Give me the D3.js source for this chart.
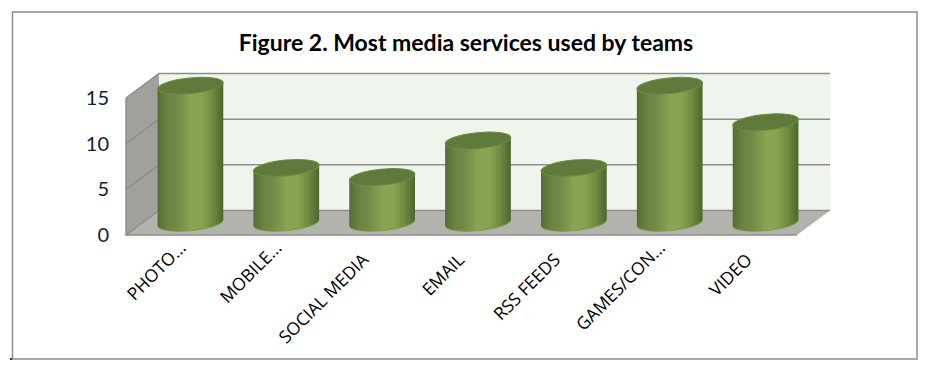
<!DOCTYPE html>
<html>
<head>
<meta charset="utf-8">
<script src="https://cdn.jsdelivr.net/npm/d3@7"></script>
<style>
  html, body { margin: 0; padding: 0; background: #ffffff; }
  svg { display: block; }
</style>
</head>
<body>
<div id="chart"></div>
<script>
const categories = ["PHOTO...", "MOBILE...", "SOCIAL MEDIA", "EMAIL", "RSS FEEDS", "GAMES/CON...", "VIDEO"]
const values = [15, 6, 5, 9, 6, 15, 11]
const yTicks = [0, 5, 10, 15]
const titleText = "Figure 2. Most media services used by teams"

const width = 925
const height = 374
const frame = { left: 12.5, top: 12, right: 917, bottom: 359 }
const front = { left: 126, right: 797, top: 98, bottom: 235 }
const depth = { x: 33, y: -24.5 }

const wrapper = d3.select("#chart").append("svg")
    .attr("width", width)
    .attr("height", height)

// Cylinder shading, banded like the original
const defs = wrapper.append("defs")
const bands = [
    [0, "#526b30"], [0.05, "#5c7537"], [0.12, "#67803f"], [0.2, "#6f8546"], [0.3, "#748b48"],
    [0.42, "#7f994c"], [0.5, "#88a452"], [0.66, "#89a452"], [0.74, "#7f9a4a"], [0.84, "#708a40"],
    [0.93, "#5d7634"], [1, "#4e662b"]
]
const grad = defs.append("linearGradient").attr("id", "cyl")
bands.forEach(b => grad.append("stop").attr("offset", b[0]).attr("stop-color", b[1]))

const x = d3.scaleBand().domain(categories).range([front.left, front.right])
const y = d3.scaleLinear().domain([0, 15]).range([front.bottom, front.top])

// Outer frame
wrapper.append("rect")
    .attr("x", frame.left).attr("y", frame.top)
    .attr("width", frame.right - frame.left).attr("height", frame.bottom - frame.top)
    .attr("fill", "#ffffff").attr("stroke", "#8c8c8c").attr("stroke-width", 1.5)

// stray speck at the frame corner in the scan
wrapper.append("rect")
    .attr("x", 10).attr("y", 358).attr("width", 2).attr("height", 2)
    .attr("fill", "#333333")

wrapper.append("text")
    .attr("x", 466).attr("y", 51)
    .attr("text-anchor", "middle")
    .attr("font-family", "Lato, sans-serif")
    .attr("font-weight", 700)
    .attr("font-size", "23px")
    .attr("fill", "#000000")
    .text(titleText)

// Back wall, side wall, floor
const plot = wrapper.append("g")
const poly = pts => "M" + pts.map(p => p.join(",")).join("L") + "Z"

plot.append("path")
    .attr("d", poly([
        [front.left + depth.x, y(15) + depth.y], [front.right + depth.x, y(15) + depth.y],
        [front.right + depth.x, y(0) + depth.y], [front.left + depth.x, y(0) + depth.y]]))
    .attr("fill", "#eff4ec")

plot.append("path")
    .attr("d", poly([
        [front.left, y(15)], [front.left + depth.x, y(15) + depth.y],
        [front.left + depth.x, y(0) + depth.y], [front.left, y(0)]]))
    .attr("fill", "#a0a09c")

plot.append("path")
    .attr("d", poly([
        [front.left, y(0)], [front.left + depth.x, y(0) + depth.y],
        [front.right + depth.x, y(0) + depth.y], [front.right, y(0)]]))
    .attr("fill", "#b3b3ae")

// Gridlines run along the side wall and the back wall
yTicks.forEach(t => {
    plot.append("path")
        .attr("d", `M${front.left},${y(t)}L${front.left + depth.x},${y(t) + depth.y}L${front.right + depth.x},${y(t) + depth.y}`)
        .attr("fill", "none")
        .attr("stroke", "#8f8f8a")
        .attr("stroke-width", 1.5)
})
plot.append("path")
    .attr("d", `M${front.left},${y(15)}L${front.left},${y(0)}L${front.right},${y(0)}`)
    .attr("fill", "none")
    .attr("stroke", "#8f8f8a")
    .attr("stroke-width", 1.5)

// Cylinders
const rx = 33
const ry = 7.9
const tilt = -5.5
const tiltDy = rx * Math.sin(tilt * Math.PI / 180)
const tiltDx = rx * Math.cos(tilt * Math.PI / 180)

const bars = plot.selectAll("g.bar")
    .data(categories.map((c, i) => ({ c, v: values[i] })))
    .join("g")
    .attr("class", "bar")
    .attr("transform", d => `translate(${x(d.c) + x.bandwidth() / 2 + depth.x / 2},${depth.y / 2})`)

bars.append("path")
    .attr("d", d => `M${-tiltDx},${y(d.v) - tiltDy}L${-tiltDx},${y(0) - tiltDy}` +
        `A${rx},${ry} ${tilt} 0 0 ${tiltDx},${y(0) + tiltDy}` +
        `L${tiltDx},${y(d.v) + tiltDy}Z`)
    .attr("fill", "url(#cyl)")

// lighter lip along the bottom edge
bars.append("path")
    .attr("d", `M${-tiltDx},${y(0) - tiltDy}A${rx},${ry} ${tilt} 0 0 ${tiltDx},${y(0) + tiltDy}`)
    .attr("fill", "none")
    .attr("stroke", "#7d9a48")
    .attr("stroke-width", 1)

bars.append("ellipse")
    .attr("rx", rx).attr("ry", ry)
    .attr("transform", d => `translate(0,${y(d.v)}) rotate(${tilt})`)
    .attr("fill", "#5f7a3b")
    .attr("stroke", "#6f8c40")
    .attr("stroke-width", 1)

// Axis labels
const axisY = d3.axisLeft(y).tickValues(yTicks).tickSize(0).tickPadding(17)
const gy = wrapper.append("g").attr("transform", `translate(${front.left},0)`).call(axisY)
gy.select(".domain").remove()
gy.selectAll("text")
    .attr("font-family", "Lato, sans-serif")
    .attr("font-size", "20px")
    .attr("fill", "#0b1f33")

const axisX = d3.axisBottom(x).tickSize(0).tickPadding(0)
const gx = wrapper.append("g").attr("transform", `translate(0,${front.bottom})`).call(axisX)
gx.select(".domain").remove()
// Labels cut with an ellipsis end further right than the whole ones
gx.selectAll("text")
    .attr("font-family", "'Open Sans', sans-serif")
    .attr("font-size", "17.5px")
    .attr("fill", "#000000")
    .attr("text-anchor", "end")
    .attr("dy", 0)
    .attr("transform", d => d.endsWith("...") ? "translate(13,14) rotate(-45)" : "translate(4,26) rotate(-45)")
</script>
</body>
</html>
